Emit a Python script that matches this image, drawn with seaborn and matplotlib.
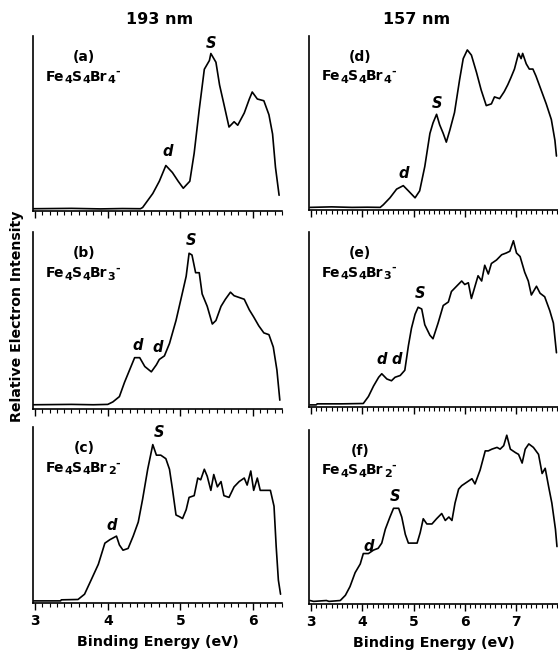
import matplotlib
matplotlib.use("Agg")
import matplotlib.pyplot as plt
from matplotlib.ticker import MultipleLocator
from matplotlib.transforms import IdentityTransform
import seaborn as sns
import pandas as pd

# ---- data (binding energy eV, relative intensity) ----
a_x = [2.98, 3.5, 3.9, 4.2, 4.45, 4.48, 4.62, 4.71, 4.80, 4.89, 4.97, 5.04, 5.13, 5.19, 5.26, 5.33, 5.40, 5.42,
       5.49, 5.54, 5.60, 5.67, 5.74, 5.79, 5.88, 5.95, 5.99, 6.06, 6.15, 6.22, 6.27, 6.31, 6.36]
a_y = [0.013, 0.015, 0.012, 0.014, 0.013, 0.02, 0.10, 0.17, 0.26, 0.22, 0.17, 0.13, 0.17, 0.33, 0.58, 0.81, 0.86, 0.90,
       0.85, 0.72, 0.61, 0.48, 0.51, 0.49, 0.56, 0.64, 0.68, 0.64, 0.63, 0.55, 0.44, 0.25, 0.09]

b_x = [2.98, 3.5, 3.8, 4.0, 4.07, 4.16, 4.23, 4.30, 4.37, 4.44, 4.51, 4.60, 4.67, 4.71, 4.78, 4.85, 4.94, 5.03, 5.08,
       5.12, 5.16, 5.21, 5.26, 5.30, 5.37, 5.44, 5.49, 5.56, 5.62, 5.69, 5.74, 5.81, 5.88, 5.95, 6.01, 6.08, 6.15,
       6.22, 6.28, 6.33, 6.37]
b_y = [0.024, 0.026, 0.024, 0.026, 0.04, 0.07, 0.15, 0.22, 0.29, 0.29, 0.24, 0.21, 0.25, 0.28, 0.30, 0.37, 0.50, 0.66,
       0.75, 0.88, 0.87, 0.77, 0.77, 0.65, 0.58, 0.48, 0.50, 0.58, 0.62, 0.66, 0.64, 0.63, 0.62, 0.56, 0.52, 0.47,
       0.43, 0.42, 0.35, 0.22, 0.05]

c_x = [2.98, 3.35, 3.36, 3.59, 3.68, 3.77, 3.87, 3.96, 4.03, 4.12, 4.16, 4.21, 4.28, 4.35, 4.42, 4.48, 4.55, 4.62,
       4.67, 4.73, 4.80, 4.85, 4.89, 4.94, 4.99, 5.03, 5.08, 5.12, 5.19, 5.24, 5.28, 5.33, 5.37, 5.42, 5.46, 5.51,
       5.56, 5.60, 5.67, 5.74, 5.81, 5.88, 5.92, 5.97, 6.01, 6.06, 6.10, 6.17, 6.24, 6.29, 6.32, 6.35, 6.38]
c_y = [0.012, 0.012, 0.018, 0.02, 0.05, 0.13, 0.22, 0.34, 0.36, 0.38, 0.33, 0.30, 0.31, 0.38, 0.46, 0.59, 0.76, 0.90,
       0.84, 0.84, 0.82, 0.76, 0.65, 0.50, 0.49, 0.48, 0.53, 0.60, 0.61, 0.71, 0.70, 0.76, 0.72, 0.64, 0.73, 0.66,
       0.69, 0.61, 0.60, 0.66, 0.69, 0.71, 0.67, 0.75, 0.64, 0.71, 0.64, 0.64, 0.64, 0.55, 0.32, 0.13, 0.05]

d_x = [2.98, 3.4, 3.8, 4.1, 4.35, 4.41, 4.54, 4.67, 4.80, 4.90, 5.03, 5.12, 5.22, 5.32, 5.38, 5.45, 5.51, 5.58, 5.64,
       5.71, 5.80, 5.90, 5.97, 6.05, 6.13, 6.23, 6.32, 6.42, 6.52, 6.58, 6.68, 6.77, 6.84, 6.90, 6.97, 7.05, 7.10,
       7.13, 7.20, 7.26, 7.33, 7.39, 7.49, 7.59, 7.69, 7.76, 7.79]
d_y = [0.015, 0.018, 0.015, 0.016, 0.015, 0.03, 0.07, 0.12, 0.14, 0.11, 0.07, 0.11, 0.25, 0.44, 0.50, 0.55, 0.49, 0.44,
       0.39, 0.46, 0.56, 0.75, 0.87, 0.92, 0.89, 0.79, 0.69, 0.60, 0.61, 0.65, 0.64, 0.68, 0.72, 0.76, 0.81, 0.90,
       0.87, 0.90, 0.84, 0.81, 0.81, 0.77, 0.69, 0.61, 0.52, 0.40, 0.31]

e_x = [2.98, 3.1, 3.12, 3.6, 4.02, 4.12, 4.22, 4.32, 4.38, 4.48, 4.57, 4.64, 4.74, 4.83, 4.90, 4.96, 5.03, 5.09, 5.16,
       5.22, 5.32, 5.38, 5.48, 5.58, 5.68, 5.74, 5.84, 5.94, 6.00, 6.07, 6.13, 6.20, 6.26, 6.33, 6.39, 6.46, 6.52,
       6.62, 6.72, 6.81, 6.88, 6.95, 7.01, 7.08, 7.17, 7.24, 7.30, 7.40, 7.47, 7.56, 7.66, 7.73, 7.79]
e_y = [0.012, 0.012, 0.018, 0.018, 0.02, 0.06, 0.12, 0.17, 0.19, 0.16, 0.15, 0.17, 0.18, 0.21, 0.35, 0.45, 0.53, 0.57,
       0.56, 0.47, 0.41, 0.39, 0.48, 0.58, 0.60, 0.66, 0.69, 0.72, 0.70, 0.71, 0.62, 0.69, 0.75, 0.72, 0.81, 0.76,
       0.82, 0.84, 0.87, 0.88, 0.89, 0.95, 0.88, 0.86, 0.77, 0.72, 0.64, 0.69, 0.65, 0.63, 0.55, 0.48, 0.31]

f_x = [2.98, 3.05, 3.3, 3.35, 3.57, 3.67, 3.76, 3.86, 3.96, 4.02, 4.12, 4.22, 4.31, 4.38, 4.45, 4.54, 4.61, 4.71, 4.77,
       4.84, 4.90, 5.07, 5.13, 5.19, 5.26, 5.36, 5.45, 5.55, 5.62, 5.69, 5.75, 5.81, 5.88, 5.94, 6.04, 6.14, 6.20,
       6.30, 6.40, 6.46, 6.53, 6.63, 6.69, 6.76, 6.82, 6.89, 6.99, 7.05, 7.12, 7.18, 7.25, 7.34, 7.44, 7.51, 7.57,
       7.64, 7.70, 7.77, 7.80]
f_y = [0.02, 0.015, 0.02, 0.015, 0.02, 0.05, 0.10, 0.18, 0.23, 0.29, 0.29, 0.31, 0.32, 0.35, 0.43, 0.50, 0.55, 0.55,
       0.50, 0.40, 0.35, 0.35, 0.41, 0.49, 0.46, 0.46, 0.49, 0.52, 0.48, 0.50, 0.48, 0.58, 0.66, 0.68, 0.70, 0.72,
       0.69, 0.77, 0.88, 0.88, 0.89, 0.90, 0.89, 0.91, 0.97, 0.89, 0.87, 0.86, 0.81, 0.89, 0.92, 0.90, 0.86, 0.75,
       0.78, 0.67, 0.58, 0.43, 0.33]

panel_letters = ["(a)", "(b)", "(c)", "(d)", "(e)", "(f)"]
# formula pieces: (text, kind) with kind n=normal, b=subscript, p=superscript
formulas = [
    [("Fe", "n"), ("4", "b"), ("S", "n"), ("4", "b"), ("Br", "n"), ("4", "b"), ("-", "p")],
    [("Fe", "n"), ("4", "b"), ("S", "n"), ("4", "b"), ("Br", "n"), ("3", "b"), ("-", "p")],
    [("Fe", "n"), ("4", "b"), ("S", "n"), ("4", "b"), ("Br", "n"), ("2", "b"), ("-", "p")],
    [("Fe", "n"), ("4", "b"), ("S", "n"), ("4", "b"), ("Br", "n"), ("4", "b"), ("-", "p")],
    [("Fe", "n"), ("4", "b"), ("S", "n"), ("4", "b"), ("Br", "n"), ("3", "b"), ("-", "p")],
    [("Fe", "n"), ("4", "b"), ("S", "n"), ("4", "b"), ("Br", "n"), ("2", "b"), ("-", "p")],
]
peak_labels = [
    [("S", 5.42, 0.96), ("d", 4.83, 0.34)],
    [("S", 5.15, 0.95), ("d", 4.41, 0.36), ("d", 4.69, 0.35)],
    [("S", 4.71, 0.97), ("d", 4.05, 0.44)],
    [("S", 5.45, 0.61), ("d", 4.80, 0.21)],
    [("S", 5.12, 0.65), ("d", 4.38, 0.27), ("d", 4.67, 0.27)],
    [("S", 4.64, 0.62), ("d", 4.12, 0.33)],
]
column_titles = ["193 nm", "157 nm"]
xlabel = "Binding Energy (eV)"
ylabel = "Relative Electron Intensity"
left_ticks = [3, 4, 5, 6]
right_ticks = [3, 4, 5, 6, 7]

series = [(a_x, a_y), (b_x, b_y), (c_x, c_y), (d_x, d_y), (e_x, e_y), (f_x, f_y)]

sns.set_style("ticks")
HFONT = ["DejaVu Sans"]
plt.rcParams["font.family"] = ["DejaVu Sans"]
plt.rcParams["font.weight"] = "bold"
plt.rcParams["text.color"] = "black"
plt.rcParams["axes.labelcolor"] = "black"
plt.rcParams["xtick.color"] = "black"
plt.rcParams["ytick.color"] = "black"
plt.rcParams["axes.edgecolor"] = "black"

W, H = 558, 652
fig = plt.figure(figsize=(W / 100, H / 100), dpi=100)
renderer = fig.canvas.get_renderer()

# pixel boxes (left, top, right, bottom)
boxes = [(33, 36, 282, 211), (33, 232, 282, 409), (33, 427, 282, 603),
         (309, 36, 558, 210), (309, 232, 558, 407), (309, 430, 558, 604)]
xlims = [(2.97, 6.40)] * 3 + [(2.96, 7.82)] * 3


def draw_formula(ax, xf, yf, pieces, size):
    x0, y0 = ax.transAxes.transform((xf, yf))
    x = x0
    for txt, kind in pieces:
        fs = size if kind == "n" else size * 0.8
        dy = 0.0
        if kind == "b":
            dy = -2.5
        elif kind == "p":
            dy = 5.5
        t = fig.text(x, y0 + dy, txt, transform=IdentityTransform(), fontsize=fs,
                     fontweight="bold", family=HFONT, color="black",
                     ha="left", va="baseline")
        x += t.get_window_extent(renderer).width


for i, ((xs, ys), (l, t, r, b)) in enumerate(zip(series, boxes)):
    ax = fig.add_axes([l / W, 1 - b / H, (r - l) / W, (b - t) / H])
    df = pd.DataFrame({"x": xs, "y": ys})
    sns.lineplot(data=df, x="x", y="y", ax=ax, color="black", linewidth=1.2,
                 estimator=None, sort=False)
    ax.set_xlim(*xlims[i])
    ax.set_ylim(0, 1)
    ax.set_xlabel("")
    ax.set_ylabel("")
    ax.set_yticks([])
    for s in ("top", "right"):
        ax.spines[s].set_visible(False)
    for s in ("left", "bottom"):
        ax.spines[s].set_linewidth(1.2)
        ax.spines[s].set_color("black")
    ax.set_xticks(left_ticks if i < 3 else right_ticks)
    ax.xaxis.set_minor_locator(MultipleLocator(0.1))
    ax.tick_params(axis="x", which="major", direction="out", length=5, width=1.0,
                   color="black", labelcolor="black", labelsize=10, pad=3)
    ax.tick_params(axis="x", which="minor", direction="out", length=3, width=0.8, color="black")
    if i % 3 != 2:
        ax.tick_params(axis="x", which="major", labelbottom=False)
    else:
        ax.set_xlabel(xlabel, fontsize=10.3, fontweight="bold", color="black", labelpad=5)
    ax.text(0.205, 0.88, panel_letters[i], transform=ax.transAxes, fontsize=10,
            fontweight="bold", color="black", ha="center", va="center")
    draw_formula(ax, 0.052, 0.745, formulas[i], 10)
    for lab, px, py in peak_labels[i]:
        ax.text(px, py, lab, fontsize=10.5, fontstyle="italic", fontweight="bold",
                color="black", ha="center", va="center")

fig.text(160 / W, 1 - 20 / H, column_titles[0], fontsize=11.5, fontweight="bold",
         color="black", ha="center", va="center")
fig.text(417 / W, 1 - 20 / H, column_titles[1], fontsize=11.5, fontweight="bold",
         color="black", ha="center", va="center")
fig.text(17.5 / W, 1 - 316 / H, ylabel, rotation=90, fontsize=10.2, fontweight="bold",
         color="black", ha="center", va="center")

fig.savefig("out.png", dpi=100)
